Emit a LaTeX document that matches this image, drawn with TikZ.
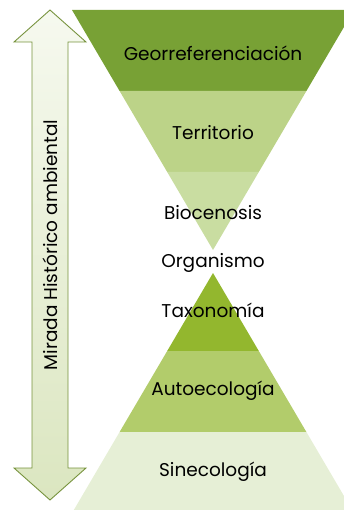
\documentclass[tikz,border=0pt]{standalone}
\usepackage{fontspec}
\setmainfont{Poppins}
\usetikzlibrary{positioning}

\definecolor{geoGreen}{HTML}{78A135}
\definecolor{terGreen}{HTML}{BCD388}
\definecolor{bioGreen}{HTML}{C9DDA1}
\definecolor{taxGreen}{HTML}{93B72E}
\definecolor{autGreen}{HTML}{B2CC6B}
\definecolor{sinGreen}{HTML}{E6EFD6}
\definecolor{arrowLine}{HTML}{76923C}
\definecolor{arrowTop}{HTML}{F6F9EF}
\definecolor{arrowBot}{HTML}{DBE6C0}

\begin{document}
\begin{tikzpicture}[
  x=1pt, y=-1pt,
  label/.style={font=\fontsize{18.5}{22}\selectfont, text=black, inner sep=0pt},
]
\useasboundingbox (0,0) rectangle (344,510);

% Funnel and pyramid bands
\begin{scope}
  \clip (0,0) rectangle (344,510);
  \fill[geoGreen] (72,10) -- (354,10) -- (306.4,91) -- (119.6,91) -- cycle;
  \fill[terGreen] (119.6,91) -- (306.4,91) -- (258.8,172) -- (167.2,172) -- cycle;
  \fill[bioGreen] (167.2,172) -- (258.8,172) -- (213,250) -- cycle;
  \fill[taxGreen] (213,273) -- (258.8,351) -- (167.2,351) -- cycle;
  \fill[autGreen] (167.2,351) -- (258.8,351) -- (306.4,432) -- (119.6,432) -- cycle;
  \fill[sinGreen] (119.6,432) -- (306.4,432) -- (352.2,510) -- (73.8,510) -- cycle;
\end{scope}

% Double arrow
\path[draw=arrowLine, line width=0.9pt, line join=miter, top color=arrowTop, bottom color=arrowBot]
  (50,10) -- (86,42) -- (68,42) -- (68,468) -- (86,468) -- (50,500)
  -- (14,468) -- (32,468) -- (32,42) -- (14,42) -- cycle;

% Labels
\node[label] (geo) at (213,53) {Georreferenciación};
\node[label] (ter) at (213,133) {Territorio};
\node[label] (bio) at (213,213) {Biocenosis};
\node[label] (org) at (213,263) {Organismo};
\node[label] (tax) at (213,310) {Taxonomía};
\node[label] (aut) at (213,391) {Autoecología};
\node[label] (sin) at (213,472) {Sinecología};
\node[label, rotate=90] (mirada) at (50,245) {Mirada Histórico ambiental};

\end{tikzpicture}
\end{document}
